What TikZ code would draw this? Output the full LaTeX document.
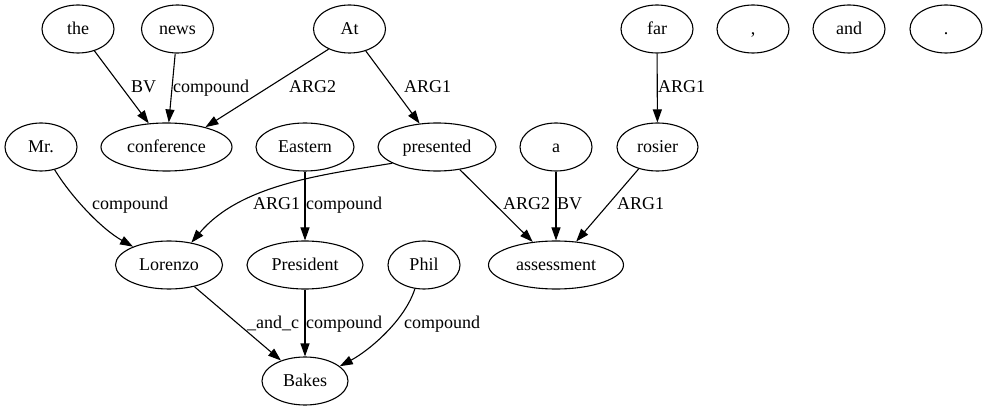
\documentclass[tikz,border=0pt]{standalone}
\usepackage{fontspec}
\setmainfont{Liberation Serif}
\usetikzlibrary{shapes.geometric,arrows.meta}
\begin{document}
\begin{tikzpicture}[x=1pt,y=1pt,
  word/.style={ellipse,draw,line width=1.1pt,inner sep=0pt,minimum height=48pt,minimum width=72pt,text height=11pt,text depth=0pt,font=\fontsize{18}{20}\selectfont},
  edge/.style={draw,line width=1.1pt,-{Triangle[length=13pt,width=9pt]}},
  lbl/.style={anchor=base west,inner sep=0pt,font=\fontsize{18}{20}\selectfont}]
\useasboundingbox (0,0) rectangle (987,-411);
% row 1
\node[word] (the) at (78,-29) {the};
\node[word] (news) at (177.5,-29) {news};
\node[word] (At) at (349.5,-29) {At};
\node[word] (far) at (657,-29) {far};
\node[word] (comma) at (753,-29) {,};
\node[word] (and) at (849,-29) {and};
\node[word] (period) at (946,-29) {.};
% row 2
\node[word] (Mr) at (41,-147) {Mr.};
\node[word,minimum width=131pt] (conference) at (166.5,-147) {conference};
\node[word,minimum width=98pt] (Eastern) at (305,-147) {Eastern};
\node[word,minimum width=118pt] (presented) at (437,-147) {presented};
\node[word] (a) at (556,-147) {a};
\node[word,minimum width=81pt] (rosier) at (657.5,-147) {rosier};
% row 3
\node[word,minimum width=107pt] (Lorenzo) at (169,-265) {Lorenzo};
\node[word,minimum width=116pt] (President) at (305,-265) {President};
\node[word] (Phil) at (424,-265) {Phil};
\node[word,minimum width=135pt] (assessment) at (556,-265) {assessment};
% row 4
\node[word,minimum width=86pt] (Bakes) at (305,-381) {Bakes};
% edges
\draw[edge] (the) -- (conference);
\draw[edge] (news) -- (conference);
\draw[edge] (At.224) -- (conference.27);
\draw[edge] (At) -- (presented);
\draw[edge] (far) -- (rosier);
\draw[edge] (Mr.301) .. controls (70,-195) and (100,-228) .. (Lorenzo.153);
\draw[edge] (presented.200) .. controls (320,-175) and (240,-185) .. (Lorenzo.45);
\draw[edge] (Eastern) -- (President);
\draw[edge] (presented) -- (assessment);
\draw[edge] (a) -- (assessment);
\draw[edge] (rosier) -- (assessment);
\draw[edge] (Lorenzo) -- (Bakes);
\draw[edge] (President) -- (Bakes);
\draw[edge] (Phil.249) .. controls (405,-320) and (370,-350) .. (Bakes.23);
% labels
\node[lbl] (l1) at (131,-93) {BV};
\node[lbl] (l2) at (173,-93) {compound};
\node[lbl] (l3) at (289,-93) {ARG2};
\node[lbl] (l4) at (404,-93) {ARG1};
\node[lbl] (l5) at (658,-93) {ARG1};
\node[lbl] (l6) at (92,-210) {compound};
\node[lbl] (l7) at (253,-210) {ARG1};
\node[lbl] (l8) at (306,-210) {compound};
\node[lbl] (l9) at (503,-210) {ARG2};
\node[lbl] (l10) at (557,-210) {BV};
\node[lbl] (l11) at (617,-210) {ARG1};
\node[lbl] (l12) at (247,-328) {\_and\_c};
\node[lbl] (l13) at (306,-328) {compound};
\node[lbl] (l14) at (404,-328) {compound};
\end{tikzpicture}
\end{document}
